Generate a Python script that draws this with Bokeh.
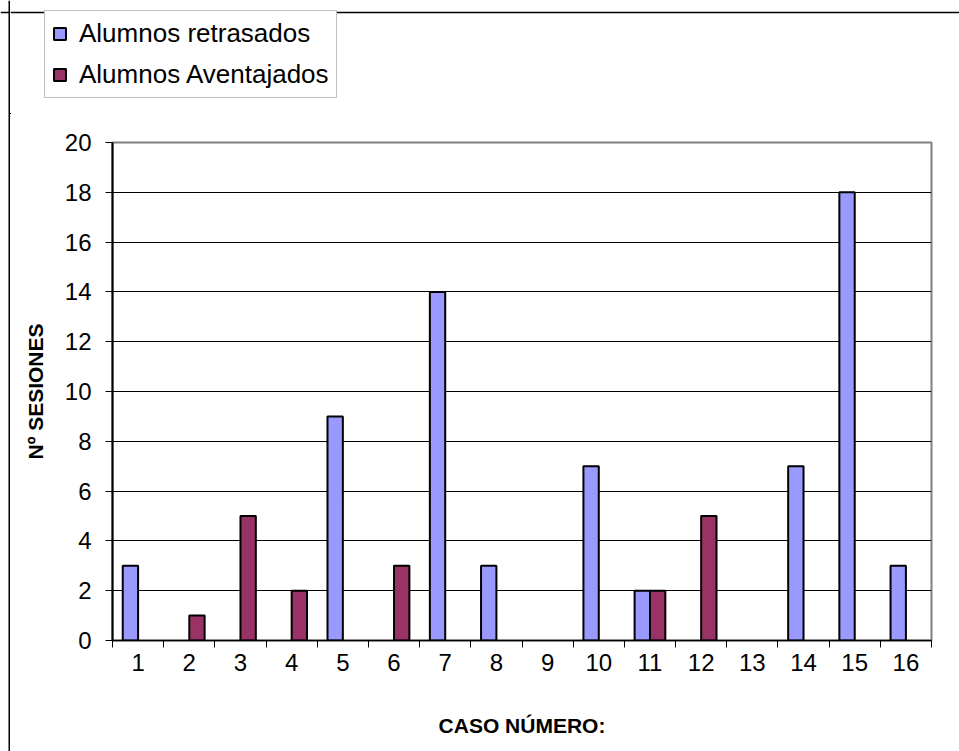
from bokeh.plotting import figure
from bokeh.layouts import column, row
from bokeh.models import ColumnDataSource, Range1d, FixedTicker, Legend, LegendItem, Span
from bokeh.transform import dodge
from bokeh.embed import file_html
from bokeh.resources import INLINE

casos = [str(i) for i in range(1, 17)]
retrasados = [3, 0, 0, 0, 9, 0, 14, 3, 0, 7, 2, 0, 0, 7, 18, 3]
aventajados = [0, 1, 5, 2, 0, 3, 0, 0, 0, 0, 2, 5, 0, 0, 0, 0]
y_ticks = [0, 2, 4, 6, 8, 10, 12, 14, 16, 18, 20]
serie_names = ["Alumnos retrasados", "Alumnos Aventajados"]
colors = ["#9999FF", "#993366"]

FONT = "Liberation Sans"
STRIP_W = 10
W = 949
TOP_H = 114
MAIN_H = 637
TOTAL_H = TOP_H + MAIN_H


def no_frame_align(fig):
    if "frame_align" in fig.properties():
        fig.frame_align = False


xpos = list(range(1, len(casos) + 1))
src_r = ColumnDataSource(dict(x=[x for x, v in zip(xpos, retrasados) if v > 0],
                              top=[v for v in retrasados if v > 0]))
src_a = ColumnDataSource(dict(x=[x for x, v in zip(xpos, aventajados) if v > 0],
                              top=[v for v in aventajados if v > 0]))

# ---------------- main chart ----------------
p = figure(width=W, height=MAIN_H, output_backend="svg", toolbar_location=None,
           x_range=Range1d(0.5, len(casos) + 0.5), y_range=Range1d(0, 20),
           min_border_left=102, min_border_top=28, min_border_right=28, min_border_bottom=111)
no_frame_align(p)
p.outline_line_color = "#808080"
p.outline_line_width = 2

bw = 0.30
p.vbar(x=dodge("x", -0.15, range=p.x_range), top="top", width=bw, bottom=0, source=src_r,
       fill_color=colors[0], line_color="black", line_width=2)
p.vbar(x=dodge("x", 0.15, range=p.x_range), top="top", width=bw, bottom=0, source=src_a,
       fill_color=colors[1], line_color="black", line_width=2)

ya = p.yaxis[0]
ya.ticker = FixedTicker(ticks=y_ticks)
ya.minor_tick_line_color = None
ya.major_tick_out = 7
ya.major_tick_in = 0
ya.axis_line_color = "black"
ya.axis_line_width = 2
ya.major_tick_line_color = "black"
ya.major_label_text_font = FONT
ya.major_label_text_font_size = "24px"
ya.major_label_text_color = "black"
ya.major_label_standoff = 14
ya.axis_label = "Nº SESIONES"
ya.axis_label_text_font = FONT
ya.axis_label_text_font_size = "21px"
ya.axis_label_text_font_style = "bold"
ya.axis_label_text_color = "black"
ya.axis_label_standoff = 15

xa = p.xaxis[0]
xa.ticker = FixedTicker(ticks=xpos, minor_ticks=[i + 0.5 for i in range(0, len(casos) + 1)])
xa.major_label_overrides = {x: c for x, c in zip(xpos, casos)}
xa.major_tick_line_color = None
xa.major_tick_out = 0
xa.major_tick_in = 0
xa.minor_tick_line_color = "black"
xa.minor_tick_out = 7
xa.minor_tick_in = 0
xa.axis_line_color = "black"
xa.axis_line_width = 1.5
xa.major_label_text_font = FONT
xa.major_label_text_font_size = "24px"
xa.major_label_text_color = "black"
xa.major_label_standoff = 6
xa.axis_label = "CASO NÚMERO:"
xa.axis_label_text_font = FONT
xa.axis_label_text_font_size = "21px"
xa.axis_label_text_font_style = "bold"
xa.axis_label_text_color = "black"
xa.axis_label_standoff = 40

p.xgrid.visible = False
p.ygrid.ticker = FixedTicker(ticks=y_ticks)
p.ygrid.grid_line_color = "black"
p.ygrid.grid_line_width = 1

# ---------------- legend strip (above the chart) ----------------
# the key renderers share the chart's data but lie outside this strip's visible ranges
X0, Y0 = 1000, 1000
lg = figure(width=W, height=TOP_H, output_backend="svg", toolbar_location=None,
            x_range=Range1d(X0, X0 + W), y_range=Range1d(Y0, Y0 + TOP_H),
            x_axis_location=None, y_axis_location=None, min_border=0)
no_frame_align(lg)
lg.outline_line_color = None
lg.grid.visible = False
k1 = lg.vbar(x="x", top="top", width=bw, bottom=0, source=src_r,
             fill_color=colors[0], line_color="black", line_width=2)
k2 = lg.vbar(x="x", top="top", width=bw, bottom=0, source=src_a,
             fill_color=colors[1], line_color="black", line_width=2)
lg.add_layout(Span(location=Y0 + TOP_H - 12, dimension="width", line_color="black", line_width=1.5))

legend = Legend(items=[LegendItem(label=serie_names[0], renderers=[k1]),
                       LegendItem(label=serie_names[1], renderers=[k2])],
                location=(34, 16))
legend.label_text_font = FONT
legend.label_text_font_size = "26px"
legend.label_text_color = "black"
legend.label_height = 28
legend.glyph_width = 15
legend.glyph_height = 15
legend.label_standoff = 12
legend.spacing = 10
legend.padding = 7
legend.margin = 0
legend.border_line_color = "#808080"
legend.border_line_width = 1.5
legend.background_fill_alpha = 1
lg.add_layout(legend, "center")

# ---------------- left edge strip (outer chart border) ----------------
st = figure(width=STRIP_W, height=TOTAL_H, output_backend="svg", toolbar_location=None,
            x_range=Range1d(0, STRIP_W), y_range=Range1d(0, TOTAL_H),
            x_axis_location=None, y_axis_location=None, min_border=0)
no_frame_align(st)
st.outline_line_color = None
st.grid.visible = False
st.add_layout(Span(location=8.75, dimension="height", line_color="black", line_width=1.5))
st.add_layout(Span(location=TOTAL_H - 12, dimension="width", line_color="black", line_width=1.5))

layout = row(st, column(lg, p, spacing=0), spacing=0)
open("out.html", "w").write(file_html(layout, INLINE))
